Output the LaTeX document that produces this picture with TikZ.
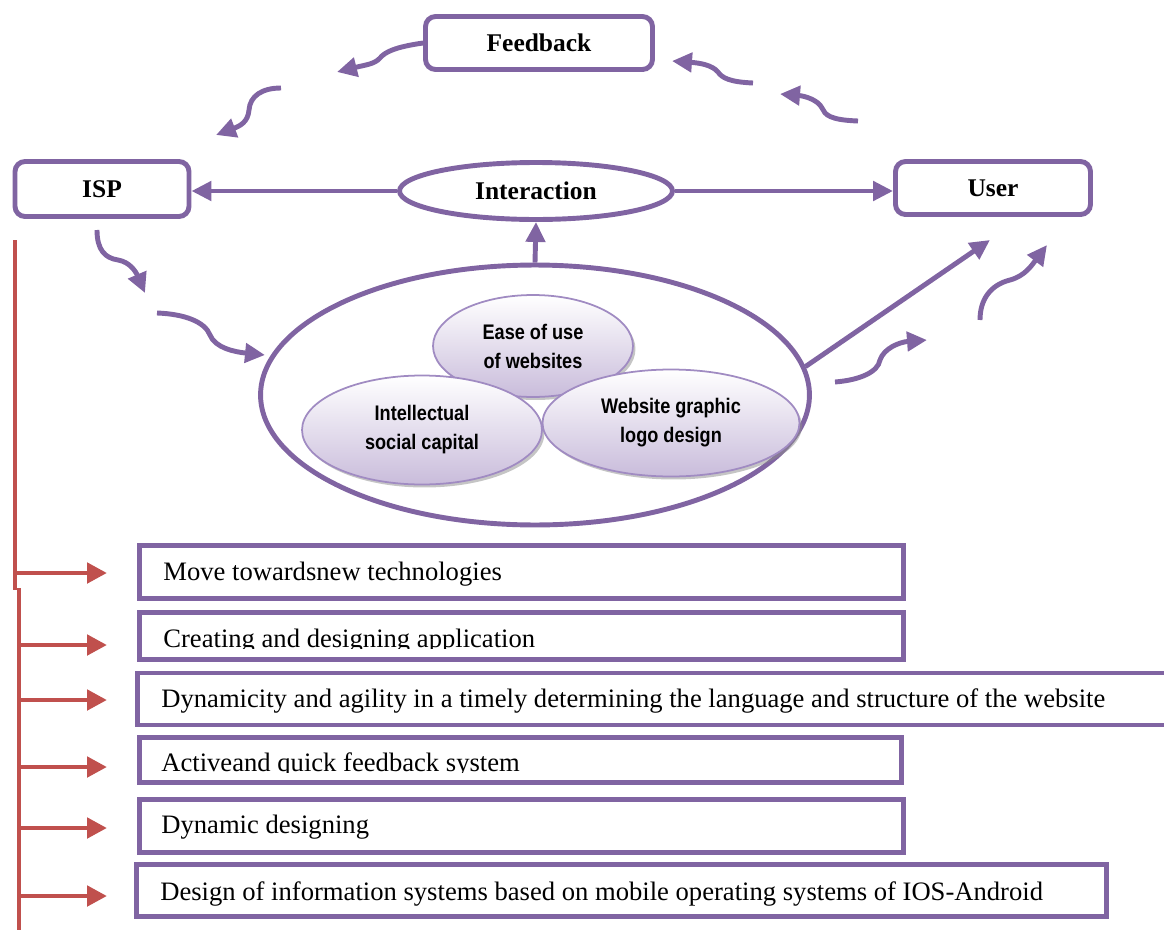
\documentclass[tikz,border=0pt]{standalone}
\usepackage{fontspec}
\setmainfont{Liberation Serif}
\newfontfamily\ovalfont[FakeStretch=0.86]{Liberation Sans}
\usetikzlibrary{arrows.meta,shapes.geometric,shadows}
\definecolor{accpurple}{HTML}{8064A2}
\definecolor{accred}{HTML}{C0504D}
\definecolor{ovalline}{HTML}{A08BC2}
\definecolor{ovalfill}{HTML}{C9BCDB}
\begin{document}
\begin{tikzpicture}[x=0.02cm,y=-0.02cm,
		hub/.style={draw=accpurple,line width=2.8pt,rounded corners=0.2cm,inner sep=0,font=\fontsize{14.5}{17}\selectfont\bfseries},
		ring/.style={ellipse,draw=accpurple,line width=2.8pt,inner sep=0,font=\fontsize{14.5}{17}\selectfont\bfseries},
		oval/.style={ellipse,draw=ovalline,line width=1pt,inner sep=0,top color=white,bottom color=ovalfill,align=center,
			font=\ovalfont\fontsize{12}{16.5}\selectfont\bfseries,drop shadow={shadow xshift=0.05cm,shadow yshift=-0.06cm,fill=black!45}},
		item/.style={draw=accpurple,line width=2.8pt,inner sep=0},
		txt/.style={anchor=base west,inner sep=0,font=\fontsize{15.15}{18}\selectfont},
		arr/.style={accpurple,line width=2.8pt,-{Triangle[length=0.4cm,width=0.38cm]}},
		rarr/.style={accred,line width=2.8pt,-{Triangle[length=0.4cm,width=0.4cm]}}]
		\useasboundingbox (0,0) rectangle (1164,930);

		\node[hub,minimum width=4.54cm,minimum height=1.06cm] (fb)  at (539,43)  {Feedback};
		\node[hub,minimum width=3.48cm,minimum height=1.10cm] (isp) at (102,189) {ISP};
		\node[hub,minimum width=3.90cm,minimum height=1.06cm] (usr) at (993,188) {User};
		\node[ring,minimum width=5.46cm,minimum height=1.14cm] (inter) at (536,191) {Interaction};
		\node[ring,minimum width=10.98cm,minimum height=5.2cm] (core) at (535,395) {};

		\node[oval,minimum width=4.0cm,minimum height=2.04cm] (ease)  at (533,346) {Ease of use\\of websites};
		\node[oval,minimum width=4.8cm,minimum height=2.18cm] (intel) at (422,430) {Intellectual\\social capital};
		\node[oval,minimum width=5.14cm,minimum height=2.14cm] (logo) at (671,423) {Website graphic\\logo design};

		\foreach \n/\px/\py in {w1s/281/88,w1e/216/135,w2e/337/72,
			w3s/753/83,w3e/672/61,w4s/858/121,w4e/780/94,
			w5s/97/230,w5e/145/293,w6s/157/313,w6e/265/355,
			w7s/835/382,w7e/927/340,w8s/980/320,w8e/1047/245,usrin/990/240}
			\coordinate (\n) at (\px,\py);

		\draw[arr] (inter.west) -- (inter.west -| isp.east);
		\draw[arr] (inter.east) -- (inter.east -| usr.west);
		\draw[arr] (core.north) -- (inter.south);
		\draw[arr] (core.6) -- (usrin);

		\draw[arr] (fb.west) .. controls (395,47) and (385,52) .. (380,58) .. controls (375,64) and (365,65) .. (w2e);
		\draw[arr] (w1s) .. controls (262,88) and (250,96) .. (249,110) .. controls (248,122) and (240,126) .. (w1e);
		\draw[arr] (w3s) .. controls (730,82) and (722,78) .. (718,72) .. controls (712,65) and (700,63) .. (w3e);
		\draw[arr] (w4s) .. controls (830,120) and (825,115) .. (822,108) .. controls (818,100) and (805,96) .. (w4e);
		\draw[arr] (w5s) .. controls (97,250) and (105,258) .. (118,260) .. controls (130,262) and (136,272) .. (w5e);
		\draw[arr] (w6s) .. controls (185,314) and (205,322) .. (210,335) .. controls (215,348) and (235,352) .. (w6e);
		\draw[arr] (w7s) .. controls (860,380) and (878,372) .. (880,360) .. controls (884,348) and (900,342) .. (w7e);
		\draw[arr] (w8s) .. controls (980,300) and (990,285) .. (1010,280) .. controls (1025,276) and (1032,265) .. (w8e);

		\foreach \n/\cx/\cy/\w/\h in {b1/521.5/572/15.28/1.06,b2/521.5/636/15.28/0.94,b3/667/699/21.2/1.04,
			b4/520.5/760/15.24/0.9,b5/521.5/826/15.28/1.06,b6/621.5/890.5/19.4/1.04}
			\node[item,minimum width=\w cm,minimum height=\h cm] (\n) at (\cx,\cy) {};

		\node[txt] (t1) at (163,580) {Move towardsnew technologies};
		\begin{scope}
			\clip (140,612) rectangle (900,648);
			\node[txt] (t2) at (163,647) {Creating and designing application};
		\end{scope}
		\node[txt] (t3) at (161,707) {Dynamicity and agility in a timely determining the language and structure of the website};
		\begin{scope}
			\clip (140,737) rectangle (900,772);
			\node[txt] (t4) at (161,771) {Activeand quick feedback system};
		\end{scope}
		\node[txt] (t5) at (161,833) {Dynamic designing};
		\node[txt] (t6) at (160,900) {Design of information systems based on mobile operating systems of IOS-Android};

		\coordinate (sp1) at (15,240);
		\coordinate (sp2) at (19,588);
		\draw[accred,line width=2.8pt] (sp1) -- (15,590);
		\draw[accred,line width=2.8pt] (sp2) -- (19,932);
		\draw[rarr] (sp1 |- 0,573) -- (107,573);
		\foreach \y in {645,700,767,828,896}
			\draw[rarr] (sp2 |- 0,\y) -- (107,\y);
	\end{tikzpicture}
\end{document}
